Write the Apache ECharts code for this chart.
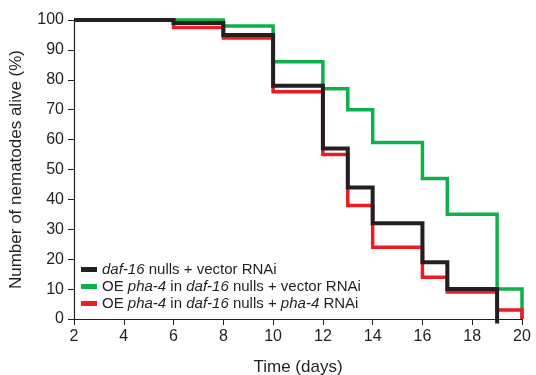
<!DOCTYPE html>
<html>
<head>
<meta charset="utf-8">
<script src="https://cdn.jsdelivr.net/npm/echarts@6/dist/echarts.min.js"></script>
<style>
  html, body { margin: 0; padding: 0; background: #fff; }
  #chart { width: 536px; height: 375px; }
</style>
</head>
<body>
<div id="chart"></div>
<script>
// survival curves, step changes at these days
const blackDays = [2, 6, 8, 10, 12, 13, 14, 16, 17, 19];
const blackAlive = [100, 99, 95, 78, 57, 44, 32, 19, 10, -1.5];

const greenDays = [2, 8, 10, 12, 13, 14, 16, 17, 19, 20];
const greenAlive = [100, 98, 86, 77, 70, 59, 47, 35, 10, 0];

const redDays = [2, 6, 8, 10, 12, 13, 14, 16, 17, 19, 20];
const redAlive = [100, 97.5, 94, 76, 55, 38, 24, 14, 9, 3, 0];

const names = [
    'daf-16 nulls + vector RNAi',
    'OE pha-4 in daf-16 nulls + vector RNAi',
    'OE pha-4 in daf-16 nulls + pha-4 RNAi'
];
const richNames = {
    'daf-16 nulls + vector RNAi': '{i|daf-16} nulls + vector RNAi',
    'OE pha-4 in daf-16 nulls + vector RNAi': 'OE {i|pha-4} in {i|daf-16} nulls + vector RNAi',
    'OE pha-4 in daf-16 nulls + pha-4 RNAi': 'OE {i|pha-4} in {i|daf-16} nulls + {i|pha-4} RNAi'
};

const pair = (xs, ys) => xs.map((x, i) => [x, ys[i]]);
const font = 'Liberation Sans, Arial, sans-serif';

const chart = echarts.init(document.getElementById('chart'));

function stepSeries(name, data, color, width, z) {
    return {
        name: name,
        type: 'line',
        step: 'end',
        data: data,
        showSymbol: false,
        symbol: 'none',
        clip: false,
        z: z,
        lineStyle: {color: color, width: width, cap: 'butt', join: 'miter'},
        itemStyle: {color: color}
    };
}

chart.setOption({
    animation: false,
    textStyle: {fontFamily: font},
    grid: {left: 74, right: 14, top: 20, bottom: 56, containLabel: false, outerBoundsMode: 'none'},
    xAxis: {
        type: 'value',
        min: 2, max: 20, interval: 2,
        name: 'Time (days)',
        nameLocation: 'middle',
        nameGap: 40,
        nameTextStyle: {fontSize: 17, color: '#231f20', fontFamily: font},
        splitLine: {show: false},
        axisLine: {onZero: false, lineStyle: {color: '#231f20', width: 1.2}},
        axisTick: {length: 6, lineStyle: {color: '#231f20'}},
        axisLabel: {fontSize: 16, color: '#231f20', margin: 10, fontFamily: font}
    },
    yAxis: {
        type: 'value',
        min: 0, max: 100, interval: 10,
        name: 'Number of nematodes alive (%)',
        nameLocation: 'middle',
        nameGap: 49,
        nameTextStyle: {fontSize: 17, color: '#231f20', fontFamily: font},
        splitLine: {show: false},
        axisLine: {show: true, lineStyle: {color: '#231f20', width: 1.2}},
        axisTick: {show: true, length: 6, lineStyle: {color: '#231f20'}},
        axisLabel: {fontSize: 16, color: '#231f20', margin: 10, fontFamily: font}
    },
    legend: {
        orient: 'vertical',
        left: 76, top: 257,
        itemWidth: 16, itemHeight: 5, itemGap: 2,
        data: names.map(n => ({name: n, icon: 'rect'})),
        formatter: n => richNames[n],
        textStyle: {
            fontSize: 15, color: '#231f20', fontFamily: font,
            rich: {i: {fontStyle: 'italic', fontSize: 15, color: '#231f20', fontFamily: font}}
        }
    },
    series: [
        stepSeries(names[1], pair(greenDays, greenAlive), '#0db14b', 3.5, 2),
        stepSeries(names[2], pair(redDays, redAlive), '#ed1c24', 3.5, 3),
        stepSeries(names[0], pair(blackDays, blackAlive), '#231f20', 4, 4)
    ]
});
</script>
</body>
</html>
